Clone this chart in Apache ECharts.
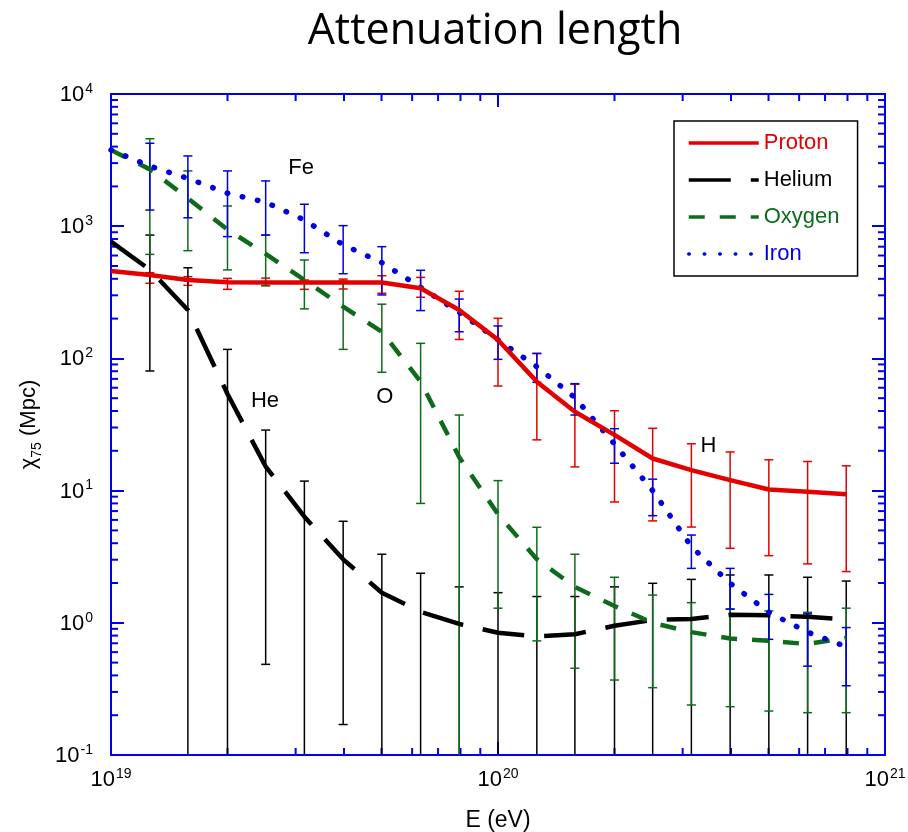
<!DOCTYPE html>
<html><head><meta charset="utf-8">
<script src="https://cdn.jsdelivr.net/npm/echarts@6/dist/echarts.min.js"></script>
<style>html,body{margin:0;padding:0;background:#fff}#c{width:908px;height:832px}</style>
</head><body><div id="c"></div>
<script>
// ---- Data ----
const energies = [1.00e19, 1.26e19, 1.58e19, 2.00e19, 2.51e19, 3.16e19, 3.98e19, 5.01e19, 6.31e19, 7.94e19,
                  1.00e20, 1.26e20, 1.58e20, 2.00e20, 2.51e20, 3.16e20, 3.98e20, 5.01e20, 6.31e20, 7.94e20];
const proton = [458, 427, 392, 377, 375, 375, 375, 375, 339, 232, 138, 66.7, 39.5, 26.4, 17.5, 14.3, 12.0, 10.2, 9.8, 9.4];
const helium = [764, 469, 232, 53.8, 15.2, 6.35, 3.02, 1.69, 1.21, 0.98, 0.84, 0.79, 0.82, 0.95, 1.05, 1.07, 1.15, 1.14, 1.11, 1.06];
const oxygen = [3770, 2690, 1627, 942, 617, 392, 246, 159, 66.7, 17.9, 6.62, 3.03, 1.87, 1.34, 1.00, 0.85, 0.76, 0.73, 0.69, 0.77];
const iron   = [3770, 2850, 2300, 1775, 1517, 1114, 724, 530, 345, 223, 138, 86.5, 50.5, 22.5, 10.0, 3.77, 1.99, 1.20, 0.85, 0.66];

// error bars start at the second energy (1.26e19); 0.1 = runs off the bottom of the axis
const errEnergies = energies.slice(1);
const protonLow  = [370, 357, 333, 355, 333, 335, 311, 290, 139, 61.8, 24.2, 15.1, 8.2, 5.9, 5.3, 3.66, 3.22, 2.79, 2.44];
const protonHigh = [445, 415, 403, 405, 392, 398, 422, 410, 322, 201, 109, 63.7, 40.2, 29.6, 22.6, 19.6, 17.1, 16.6, 15.4];
const heliumLow  = [80.3, 0.1, 0.1, 0.485, 0.1, 0.17, 0.1, 0.1, 0.1, 0.1, 0.1, 0.1, 0.1, 0.1, 0.1, 0.1, 0.1, 0.1, 0.1];
const heliumHigh = [857, 485, 117, 28.7, 11.8, 5.86, 3.30, 2.37, 1.87, 1.69, 1.58, 1.58, 1.87, 1.99, 2.13, 2.30, 2.30, 2.21, 2.07];
const oxygenLow  = [612, 653, 467, 355, 237, 117, 78.5, 8.0, 0.1, 1.29, 0.73, 0.453, 0.369, 0.323, 0.239, 0.232, 0.215, 0.209, 0.209];
const oxygenHigh = [4590, 2620, 1422, 857, 555, 385, 257, 130, 37.3, 11.9, 5.28, 3.30, 2.21, 1.62, 1.42, 1.27, 1.23, 1.20, 1.29];
const ironLow    = [1325, 1158, 834, 857, 630, 437, 302, 230, 159, 98.4, 65.9, 37.3, 16.1, 6.46, 2.58, 1.27, 0.75, 0.47, 0.334];
const ironHigh   = [4240, 3400, 2620, 2200, 1466, 1010, 700, 464, 281, 176, 109, 64.4, 29.4, 12.2, 4.61, 2.58, 1.64, 1.17, 0.92];

const annotNames = ['Fe', 'He', 'O', 'H'];
const annotX = [3.1e19, 2.5e19, 5.1e19, 3.5e20];
const annotY = [2750, 48, 51, 21.7];

const minorXTicks = [2e19, 3e19, 4e19, 5e19, 6e19, 7e19, 8e19, 9e19, 2e20, 3e20, 4e20, 5e20, 6e20, 7e20, 8e20, 9e20];
const minorYTicks = [0.2, 0.3, 0.4, 0.5, 0.6, 0.7, 0.8, 0.9, 2, 3, 4, 5, 6, 7, 8, 9,
                     20, 30, 40, 50, 60, 70, 80, 90, 200, 300, 400, 500, 600, 700, 800, 900,
                     2000, 3000, 4000, 5000, 6000, 7000, 8000, 9000];

const X_MIN = 1e19, X_MAX = 1e21, Y_MIN = 0.1, Y_MAX = 1e4;

// ---- Styles ----
const RED = '#e30000', BLACK = '#000000', GREEN = '#0f6b1c', BLUE = '#0000e0', AXIS = '#0000ee';
const FONT = 'Liberation Sans, Arial, Helvetica, sans-serif';

const zip = (a, b) => a.map((v, i) => [v, b[i]]);
const errData = (lo, hi) => errEnergies.map((e, i) => [e, lo[i], hi[i]]);

function errSeries(name, color, lo, hi) {
  return {
    type: 'custom', name: name, coordinateSystem: 'cartesian2d', silent: true, z: 2,
    data: errData(lo, hi),
    renderItem: function (params, api) {
      const x = api.value(0), l = api.value(1), h = api.value(2);
      const pt = api.coord([x, h]);
      const pb = api.coord([x, Math.max(l, Y_MIN)]);
      const w = 4.5;
      const st = { stroke: color, lineWidth: 1.5, fill: null };
      const ch = [
        { type: 'line', shape: { x1: pt[0], y1: pt[1], x2: pb[0], y2: pb[1] }, style: st },
        { type: 'line', shape: { x1: pt[0] - w, y1: pt[1], x2: pt[0] + w, y2: pt[1] }, style: st }
      ];
      if (l > Y_MIN) ch.push({ type: 'line', shape: { x1: pb[0] - w, y1: pb[1], x2: pb[0] + w, y2: pb[1] }, style: st });
      return { type: 'group', children: ch };
    }
  };
}

function lineSeries(name, color, data, type, cap, width) {
  return {
    type: 'line', name: name, data: zip(energies, data), showSymbol: false, symbol: 'none', z: 5,
    lineStyle: { color: color, width: width || 4.5, type: type, cap: cap || 'butt' },
    itemStyle: { color: color }, silent: true, animation: false
  };
}

const axisLabelFmt = function (v) {
  const e = Math.round(Math.log10(v));
  return '{b|10}{s|' + e + '}';
};
const labelRich = {
  b: { fontSize: 22, fontFamily: FONT, color: '#000', lineHeight: 24, verticalAlign: 'bottom' },
  s: { fontSize: 14, fontFamily: FONT, color: '#000', lineHeight: 24, verticalAlign: 'top', padding: [0, 0, 0, 1] }
};

const chart = echarts.init(document.getElementById('c'), null, { renderer: 'canvas' });
chart.setOption({
  animation: false,
  backgroundColor: '#fff',
  title: {
    text: 'Attenuation length', left: 490, top: 5, textAlign: 'center',
    textStyle: { fontFamily: 'Open Sans, Noto Sans, sans-serif', fontSize: 43, fontWeight: 'normal', color: '#000' }
  },
  grid: { left: 111, right: 23, top: 94, bottom: 77, containLabel: false, outerBoundsMode: 'none' },
  legend: {
    left: 674, top: 121, orient: 'vertical',
    padding: [11, 18, 11, 13], itemGap: 15, itemWidth: 70, itemHeight: 14,
    borderColor: '#000', borderWidth: 1.5, backgroundColor: '#fff',
    itemStyle: { opacity: 0 },
    lineStyle: { width: 3.5 },
    textStyle: { fontFamily: FONT, fontSize: 22 },
    data: [
      { name: 'Proton', textStyle: { color: RED } },
      { name: 'Helium', textStyle: { color: BLACK } },
      { name: 'Oxygen', textStyle: { color: GREEN } },
      { name: 'Iron', textStyle: { color: BLUE } }
    ]
  },
  xAxis: [
    {
      type: 'log', logBase: 10, min: X_MIN, max: X_MAX, position: 'bottom',
      name: 'E (eV)', nameLocation: 'middle', nameGap: 54,
      nameTextStyle: { fontFamily: FONT, fontSize: 23, color: '#000' },
      axisLine: { lineStyle: { color: AXIS, width: 2 } },
      axisTick: { inside: true, length: 13, lineStyle: { color: AXIS, width: 2 } },
      axisLabel: { formatter: axisLabelFmt, rich: labelRich, margin: 12 },
      splitLine: { show: false }, minorTick: { show: false }
    },
    {
      type: 'log', logBase: 10, min: X_MIN, max: X_MAX, position: 'top',
      axisLine: { lineStyle: { color: AXIS, width: 2 } },
      axisTick: { inside: true, length: 13, lineStyle: { color: AXIS, width: 2 } },
      axisLabel: { show: false }, splitLine: { show: false }
    }
  ],
  yAxis: [
    {
      type: 'log', logBase: 10, min: Y_MIN, max: Y_MAX, position: 'left',
      name: '{n|χ}{sub|75}{n| (Mpc)}', nameLocation: 'middle', nameGap: 54, nameRotate: 90,
      nameTextStyle: {
        rich: {
          n: { fontFamily: FONT, fontSize: 22, color: '#000', lineHeight: 26, verticalAlign: 'top' },
          sub: { fontFamily: FONT, fontSize: 14, color: '#000', lineHeight: 26, verticalAlign: 'bottom' }
        }
      },
      axisLine: { lineStyle: { color: AXIS, width: 2 } },
      axisTick: { inside: true, length: 13, lineStyle: { color: AXIS, width: 2 } },
      axisLabel: { formatter: axisLabelFmt, rich: labelRich, margin: 18 },
      splitLine: { show: false }
    },
    {
      type: 'log', logBase: 10, min: Y_MIN, max: Y_MAX, position: 'right',
      axisLine: { lineStyle: { color: AXIS, width: 2 } },
      axisTick: { inside: true, length: 13, lineStyle: { color: AXIS, width: 2 } },
      axisLabel: { show: false }, splitLine: { show: false }
    }
  ],
  series: [
    {
      type: 'custom', name: 'minorX', silent: true, clip: false, z: 1,
      data: minorXTicks.map(v => [v, Y_MIN]),
      renderItem: function (params, api) {
        const v = api.value(0);
        const b = api.coord([v, Y_MIN]), t = api.coord([v, Y_MAX]);
        const st = { stroke: AXIS, lineWidth: 2 };
        return { type: 'group', children: [
          { type: 'line', shape: { x1: b[0], y1: b[1], x2: b[0], y2: b[1] - 7 }, style: st },
          { type: 'line', shape: { x1: t[0], y1: t[1], x2: t[0], y2: t[1] + 7 }, style: st }
        ] };
      }
    },
    {
      type: 'custom', name: 'minorY', silent: true, clip: false, z: 1,
      data: minorYTicks.map(v => [X_MIN, v]),
      renderItem: function (params, api) {
        const v = api.value(1);
        const l = api.coord([X_MIN, v]), r = api.coord([X_MAX, v]);
        const st = { stroke: AXIS, lineWidth: 2 };
        return { type: 'group', children: [
          { type: 'line', shape: { x1: l[0], y1: l[1], x2: l[0] + 7, y2: l[1] }, style: st },
          { type: 'line', shape: { x1: r[0], y1: r[1], x2: r[0] - 7, y2: r[1] }, style: st }
        ] };
      }
    },
    errSeries('Proton err', RED, protonLow, protonHigh),
    errSeries('Helium err', BLACK, heliumLow, heliumHigh),
    errSeries('Oxygen err', GREEN, oxygenLow, oxygenHigh),
    errSeries('Iron err', BLUE, ironLow, ironHigh),
    lineSeries('Helium', BLACK, helium, [42, 20]),
    lineSeries('Oxygen', GREEN, oxygen, [16, 15]),
    lineSeries('Iron', BLUE, iron, [0.5, 15], 'round', 5.5),
    lineSeries('Proton', RED, proton, 'solid'),
    {
      type: 'custom', name: 'labels', silent: true, z: 6,
      data: annotX.map((x, i) => [x, annotY[i]]),
      renderItem: function (params, api) {
        const p = api.coord([api.value(0), api.value(1)]);
        return { type: 'text', x: p[0], y: p[1],
          style: { text: annotNames[params.dataIndex], fill: '#000', font: '22px ' + FONT,
                   textAlign: 'center', textVerticalAlign: 'middle' } };
      }
    }
  ]
});
</script>
</body></html>
